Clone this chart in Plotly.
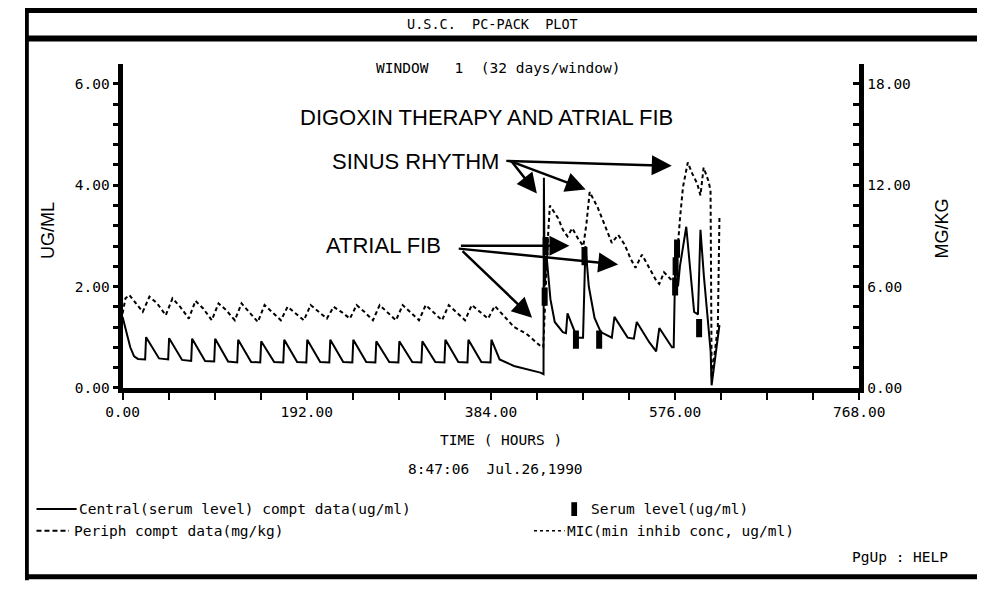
import plotly.graph_objects as go

# ---------------- data ----------------
# Central compartment (serum level), ug/ml  -> left axis
central_t = [0, 4, 8, 12, 16, 23.5,
             24.5, 38, 47.5,
             48.5, 62, 71.5,
             72.5, 86, 95.5,
             96.5, 110, 119.5,
             120.5, 134, 143.5,
             144.5, 158, 167.5,
             168.5, 182, 191.5,
             192.5, 206, 215.5,
             216.5, 230, 239.5,
             240.5, 254, 263.5,
             264.5, 278, 287.5,
             288.5, 302, 311.5,
             312.5, 326, 335.5,
             336.5, 350, 359.5,
             360.5, 374, 383.5,
             384.5, 393, 408, 421, 435.5, 438.8,
             439.2, 440, 442, 446, 450.5, 458.9, 462.2, 463.8, 473.8, 480,
             482.5, 486, 492, 498.5, 510, 512.7, 526.5, 533, 536, 549,
             556.2, 559.5, 572.7, 574.5, 576.5, 579, 581, 587.6, 592, 595.8,
             599.8, 602.4, 606, 609, 613, 614, 622.2]
central_v = [1.4, 1.1, 0.8, 0.62, 0.57, 0.56,
             1.0, 0.58, 0.56,
             0.98, 0.55, 0.53,
             0.97, 0.53, 0.52,
             0.97, 0.52, 0.5,
             0.95, 0.51, 0.5,
             0.92, 0.51, 0.5,
             0.95, 0.51, 0.5,
             0.95, 0.51, 0.5,
             0.95, 0.51, 0.5,
             0.95, 0.51, 0.5,
             0.92, 0.51, 0.5,
             0.92, 0.51, 0.5,
             0.92, 0.51, 0.5,
             0.95, 0.51, 0.5,
             0.95, 0.51, 0.5,
             0.95, 0.56, 0.43, 0.37, 0.3, 0.27,
             4.15, 2.0, 2.6, 1.75, 1.3, 1.1, 1.08, 1.47, 0.99, 0.99,
             2.8, 2.0, 1.38, 1.1, 0.99, 1.4, 0.99, 0.97, 1.3, 0.9,
             0.72, 1.18, 0.8, 0.8, 2.85, 2.0, 2.4, 3.18, 2.2, 1.5,
             1.45, 3.12, 2.2, 1.5, 0.72, 0.05, 1.24]

# Peripheral compartment, mg/kg -> right axis
periph_t = [0, 3, 7, 13, 21,
            28, 36, 45, 52, 60, 69, 76, 84, 93, 100, 108, 117,
            124, 132, 141, 148, 156, 165, 172, 180, 189, 196, 204, 213,
            220, 228, 237, 244, 252, 261, 268, 276, 285, 292, 300, 309,
            316, 324, 333, 340, 348, 357, 364, 372, 381,
            388, 398, 408, 421, 436, 438.5, 441, 443.5, 445.4, 454,
            459, 463.8, 468.8, 475.3, 480.3, 483.6, 486.9, 495.1, 501.8, 510,
            516.6, 523.3, 529.8, 534.7, 541.4, 549.6, 556.2, 559.5, 564.4, 571.1,
            576, 581, 584.2, 589.2, 594.1, 599, 602.4, 605.7, 610.6, 612.9,
            614.1, 620.5, 622.2]
periph_v = [4.4, 5.3, 5.5, 5.1, 4.5,
            5.4, 5.0, 4.3, 5.3, 4.8, 4.1, 5.15, 4.7, 4.0, 5.0, 4.6, 4.0,
            5.0, 4.5, 3.9, 4.9, 4.5, 4.0, 4.8, 4.4, 4.0, 4.9, 4.5, 4.1,
            4.8, 4.5, 4.1, 4.9, 4.5, 4.0, 4.9, 4.5, 4.0, 4.9, 4.5, 4.0,
            4.9, 4.5, 4.0, 4.9, 4.5, 4.0, 4.9, 4.5, 4.1,
            4.85, 4.25, 3.6, 3.2, 2.45, 2.4, 6.0, 9.0, 10.8, 10.05,
            9.36, 8.97, 9.45, 8.79, 8.4, 9.75, 11.6, 10.7, 9.75, 8.58,
            9.06, 8.49, 7.62, 7.11, 7.89, 7.02, 6.36, 6.15, 6.84, 6.45,
            6.24, 10.0, 11.9, 13.35, 12.66, 12.1, 11.4, 13.05, 12.27, 11.7,
            0.6, 3.6, 10.1]

# Measured serum levels, ug/ml
serum_t = [440.0, 441.0, 472.6, 481.5, 496.8, 576.0, 576.5, 578.0, 601.0]
serum_v = [1.8, 2.8, 0.95, 2.6, 0.95, 2.0, 2.4, 2.75, 1.18]

# axis ticks
x_tick_vals = [0, 48, 96, 144, 192, 240, 288, 336, 384, 432, 480, 528, 576, 624, 672, 720, 768]
x_tick_labels = ["0.00", "", "", "", "192.00", "", "", "", "384.00", "", "", "", "576.00", "", "", "", "768.00"]
yl_tick_vals = [0, 0.4, 0.8, 1.2, 1.6, 2.0, 2.4, 2.8, 3.2, 3.6, 4.0, 4.4, 4.8, 5.2, 5.6, 6.0]
yl_tick_labels = ["0.00", "", "", "", "", "2.00", "", "", "", "", "4.00", "", "", "", "", "6.00"]
yr_tick_vals = [0, 1.2, 2.4, 3.6, 4.8, 6.0, 7.2, 8.4, 9.6, 10.8, 12.0, 13.2, 14.4, 15.6, 16.8, 18.0]
yr_tick_labels = ["0.00", "", "", "", "", "6.00", "", "", "", "", "12.00", "", "", "", "", "18.00"]

# ---------------- figure ----------------
W, H = 995, 590
OFF = 8  # page body margin: figure is drawn 8px right/down in the window

def PX(x):
    return (x - OFF) / W

def PY(y):
    return 1 - (y - OFF) / H

DOS = "DejaVu Sans Mono"
FS = 14.5
SANS = "Liberation Sans, Arial"

fig = go.Figure()
fig.add_trace(go.Scatter(x=central_t, y=central_v, mode="lines",
                         line=dict(color="black", width=2), yaxis="y",
                         name="Central(serum level) compt data(ug/ml)"))
fig.add_trace(go.Scatter(x=periph_t, y=periph_v, mode="lines",
                         line=dict(color="black", width=2, dash="4px,3px"), yaxis="y2",
                         name="Periph compt data(mg/kg)"))
fig.add_trace(go.Scatter(x=serum_t, y=serum_v, mode="markers", yaxis="y",
                         marker=dict(symbol="line-ns", size=13, color="black",
                                     line=dict(width=6, color="black")),
                         name="Serum level(ug/ml)"))

x0, x1 = 110, 880      # window pixels of t=0 and t=768
ytop, ybot = 65, 393   # window pixels of top of axis and of value 0
y_max_left = 6.39

fig.update_layout(
    width=W, height=H, margin=dict(l=0, r=0, t=0, b=0),
    paper_bgcolor="white", plot_bgcolor="white", showlegend=False,
    xaxis=dict(domain=[PX(x0), PX(x1)], range=[0, 768], showgrid=False, zeroline=False,
               showline=True, linewidth=5, linecolor="black",
               ticks="outside", ticklen=7, tickwidth=1.5, tickcolor="black",
               tickvals=x_tick_vals, ticktext=x_tick_labels,
               tickfont=dict(family=DOS, size=FS, color="black"), anchor="y"),
    yaxis=dict(domain=[PY(ybot), PY(ytop)], range=[0, y_max_left], showgrid=False, zeroline=False,
               showline=True, linewidth=5, linecolor="black",
               ticks="outside", ticklen=5, tickwidth=3, tickcolor="black",
               tickvals=yl_tick_vals, ticktext=yl_tick_labels,
               tickfont=dict(family=DOS, size=FS, color="black")),
    yaxis2=dict(domain=[PY(ybot), PY(ytop)], range=[0, y_max_left * 3], overlaying="y", side="right",
                showgrid=False, zeroline=False,
                showline=True, linewidth=5, linecolor="black",
                ticks="inside", ticklen=6, tickwidth=3, tickcolor="black",
                tickvals=yr_tick_vals, ticktext=yr_tick_labels,
                tickfont=dict(family=DOS, size=FS, color="black"), anchor="x"),
)

shapes = []

def rect(xa, ya, xb, yb):
    shapes.append(dict(type="rect", xref="paper", yref="paper",
                       x0=PX(xa), x1=PX(xb), y0=PY(yb), y1=PY(ya),
                       fillcolor="black", line=dict(width=0)))

# frame
rect(8, 8, 1003, 13)
rect(8, 36, 1003, 42)
rect(8, 8, 12, 588)
rect(8, 582, 1003, 587)

def hline(xa, xb, y, dash="solid", width=2):
    shapes.append(dict(type="line", xref="paper", yref="paper",
                       x0=PX(xa), x1=PX(xb), y0=PY(y), y1=PY(y),
                       line=dict(color="black", width=width, dash=dash)))

ROW1, ROW2, ROW3 = 516, 538, 565
# legend samples
hline(20, 62, ROW1)
hline(20, 54, ROW2, dash="5px,3px")
hline(540, 572, ROW2, dash="dot", width=1.5)
rect(579, ROW1 - 7, 585, ROW1 + 7)
fig.update_layout(shapes=shapes)

ann = []

def text(x, y, s, font=DOS, size=FS, xanchor="center", angle=0):
    ann.append(dict(x=PX(x), y=PY(y), xref="paper", yref="paper", text=s, showarrow=False,
                    xanchor=xanchor, yanchor="middle", textangle=angle,
                    font=dict(family=font, size=size, color="black")))

text(497, 24, "U.S.C.  PC-PACK  PLOT", size=13.5)
text(502, 69, "WINDOW   1  (32 days/window)")
text(505, 446, "TIME ( HOURS )")
text(500, 475, "8:47:06  Jul.26,1990")
text(62, ROW1, "Central(serum level) compt data(ug/ml)", xanchor="left")
text(57, ROW2, "Periph compt data(mg/kg)", xanchor="left")
text(597, ROW1, "Serum level(ug/ml)", xanchor="left")
text(572, ROW2, "MIC(min inhib conc, ug/ml)", xanchor="left")
text(870, ROW3, "PgUp : HELP", xanchor="left")
text(32, 233, "UG/ML", font=SANS, size=18, angle=-90)
text(966, 232, "MG/KG", font=SANS, size=18, angle=-90)
text(490, 119, "DIGOXIN THERAPY AND ATRIAL FIB", font=SANS, size=22)
text(416, 164, "SINUS RHYTHM", font=SANS, size=22)
text(383, 249, "ATRIAL FIB", font=SANS, size=22)

def arrow(tx, ty, hx, hy):
    ann.append(dict(x=PX(hx), y=PY(hy), xref="paper", yref="paper", text="",
                    showarrow=True, axref="pixel", ayref="pixel",
                    ax=tx - hx, ay=ty - hy, arrowhead=2, arrowsize=1.6,
                    arrowwidth=2.5, arrowcolor="black", standoff=0, startstandoff=0))

arrow(517, 163, 543, 196)
arrow(517, 163, 594, 192)
arrow(517, 163, 684, 168)
arrow(467, 249, 577, 249)
arrow(467, 252, 628, 268)
arrow(467, 254, 538, 322)
fig.update_layout(annotations=ann)

fig.write_html("out.html")
